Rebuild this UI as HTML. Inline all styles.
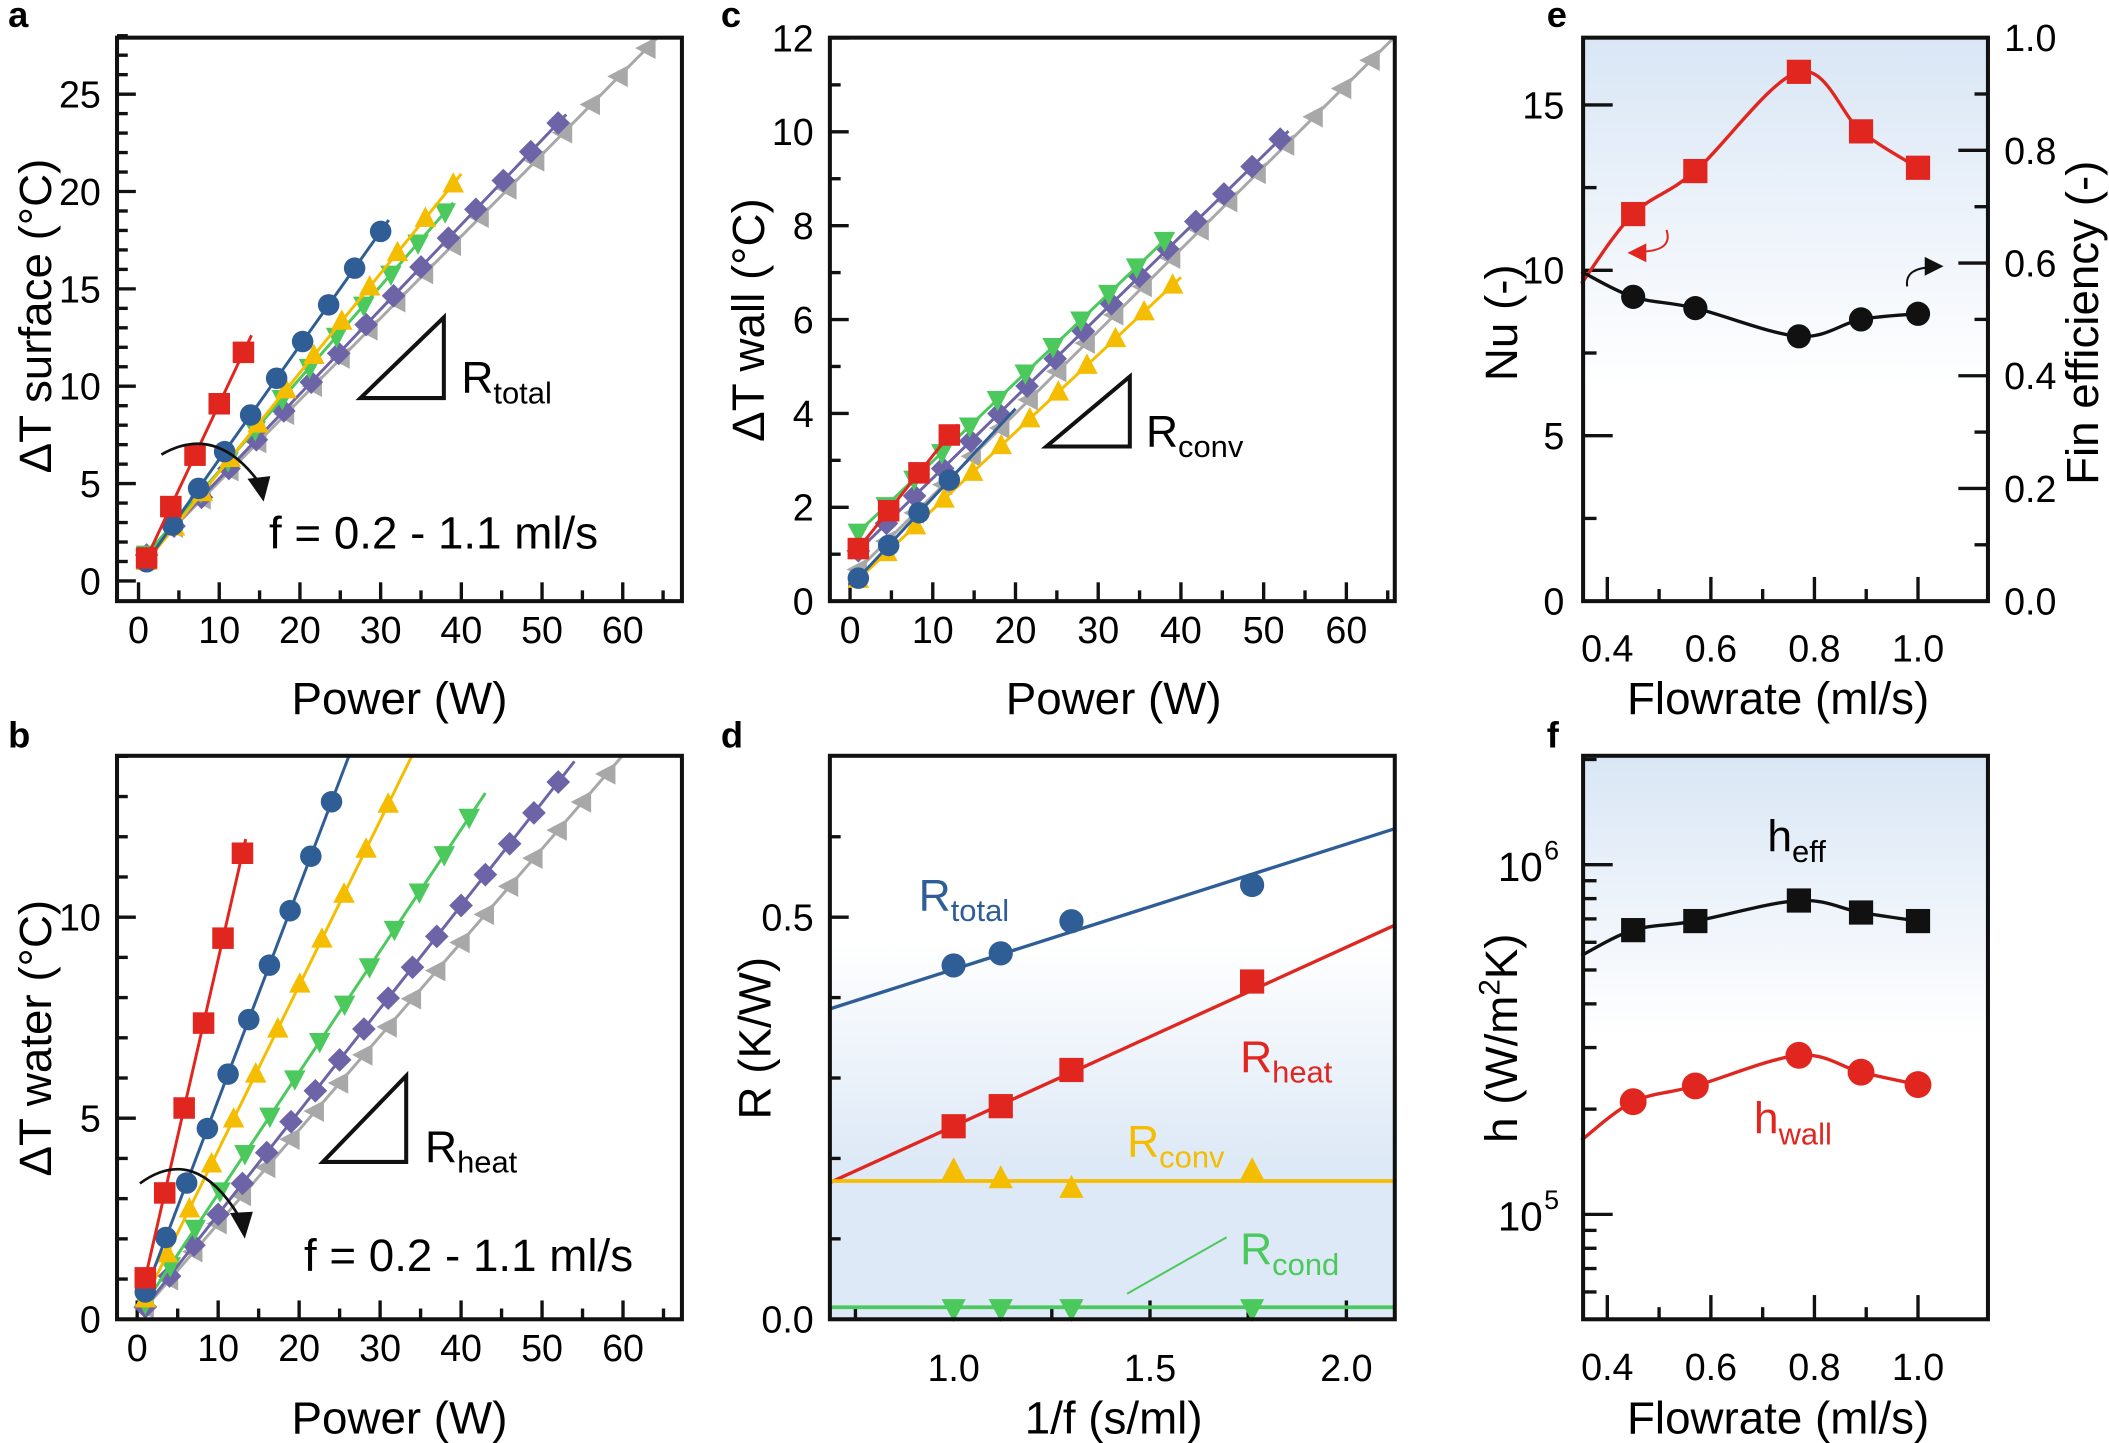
<!DOCTYPE html>
<html><head><meta charset="utf-8"><style>
html,body{margin:0;padding:0;background:#fff}
svg{display:block}
text{font-family:"Liberation Sans",Arial,sans-serif}
</style></head><body>
<svg id="s" width="2109" height="1443" viewBox="0 0 1568 1073" preserveAspectRatio="none" xmlns="http://www.w3.org/2000/svg">
<defs>
<linearGradient id="gd" x1="0" y1="0" x2="0" y2="1"><stop offset="0.33" stop-color="#fff"/><stop offset="0.72" stop-color="#dde9f6"/><stop offset="1" stop-color="#dde9f6"/></linearGradient>
<linearGradient id="ge" x1="0" y1="0" x2="0" y2="1"><stop offset="0" stop-color="#d9e6f5"/><stop offset="0.62" stop-color="#fff"/></linearGradient>
<linearGradient id="gf" x1="0" y1="0" x2="0" y2="1"><stop offset="0" stop-color="#d9e6f5"/><stop offset="0.5" stop-color="#fff"/></linearGradient>
</defs>
<rect x="617" y="562" width="420" height="419" fill="url(#gd)"/>
<rect x="1177" y="28" width="301" height="419" fill="url(#ge)"/>
<rect x="1177" y="562" width="301" height="419" fill="url(#gf)"/>
<g id="g"></g>
<g font-weight="bold" font-size="27">
<text x="6" y="20">a</text><text x="536" y="20">c</text><text x="1150" y="20">e</text>
<text x="6" y="556">b</text><text x="536" y="556">d</text><text x="1150" y="556">f</text></g>
<g font-size="34" text-anchor="middle">
<text x="297" y="531">Power (W)</text><text x="828" y="531">Power (W)</text><text x="1322" y="531">Flowrate (ml/s)</text>
<text x="297" y="1066">Power (W)</text><text x="828" y="1066">1/f (s/ml)</text><text x="1322" y="1066">Flowrate (ml/s)</text>
<text transform="translate(38,235) rotate(-90)">ΔT surface (°C)</text>
<text transform="translate(568,238) rotate(-90)">ΔT wall (°C)</text>
<text transform="translate(1128,240) rotate(-90)">Nu (-)</text>
<text transform="translate(1560,240) rotate(-90)">Fin efficiency (-)</text>
<text transform="translate(38,772) rotate(-90)">ΔT water (°C)</text>
<text transform="translate(573,772) rotate(-90)">R (K/W)</text>
<text transform="translate(1128,772) rotate(-90)">h (W/m<tspan font-size="22" dy="-13">2</tspan><tspan dy="13">K)</tspan></text>
</g>
<g font-size="33">
<text x="343" y="292">R<tspan font-size="23" dy="8">total</tspan></text>
<text x="852" y="332">R<tspan font-size="23" dy="8">conv</tspan></text>
<text x="316" y="864">R<tspan font-size="23" dy="8">heat</tspan></text>
<text x="200" y="408" font-size="34">f = 0.2 - 1.1 ml/s</text>
<text x="226" y="945" font-size="34">f = 0.2 - 1.1 ml/s</text>
<text x="683" y="677" fill="#2f5e97">R<tspan font-size="23" dy="8">total</tspan></text>
<text x="922" y="797" fill="#e0261f">R<tspan font-size="23" dy="8">heat</tspan></text>
<text x="838" y="860" fill="#f5bd00">R<tspan font-size="23" dy="8">conv</tspan></text>
<text x="922" y="940" fill="#4cc95c">R<tspan font-size="23" dy="8">cond</tspan></text>
<text x="1314" y="633" fill="#000">h<tspan font-size="23" dy="8">eff</tspan></text>
<text x="1304" y="843" fill="#e0261f">h<tspan font-size="23" dy="8">wall</tspan></text>
</g>
</svg>
<script>
const G=document.getElementById('g');const NS='http://www.w3.org/2000/svg';
function el(t,a){const e=document.createElementNS(NS,t);for(const k in a)e.setAttribute(k,a[k]);G.appendChild(e);return e;}
function txt(x,y,s,anc,fs){const e=el('text',{x:x,y:y,'font-size':fs||28,'text-anchor':anc||'middle'});e.textContent=s;return e;}
const C={r:'#e0261f',b:'#2f5e97',y:'#f5bd00',g:'#4cc95c',p:'#6c64a6',k:'#a8a8a8',K:'#111'};
function mk(x,y,t,c,s){s=s||8;
 if(t=='s')el('rect',{x:x-s,y:y-s,width:2*s,height:2*s,fill:c});
 else if(t=='o')el('circle',{cx:x,cy:y,r:s,fill:c});
 else if(t=='u')el('polygon',{points:`${x},${y-s*1.1} ${x-s},${y+s*.8} ${x+s},${y+s*.8}`,fill:c});
 else if(t=='v')el('polygon',{points:`${x},${y+s*1.1} ${x-s},${y-s*.8} ${x+s},${y-s*.8}`,fill:c});
 else if(t=='d')el('polygon',{points:`${x},${y-s*1.1} ${x+s*1.1},${y} ${x},${y+s*1.1} ${x-s*1.1},${y}`,fill:c});
 else if(t=='l')el('polygon',{points:`${x-s*1.1},${y} ${x+s*.8},${y-s} ${x+s*.8},${y+s}`,fill:c});}
function frame(L,T,R,B){el('rect',{x:L,y:T,width:R-L,height:B-T,fill:'none',stroke:'#111','stroke-width':3});}
function line(pts,c,w){el('polyline',{points:pts.map(p=>p.join(',')).join(' '),fill:'none',stroke:c,'stroke-width':w||2.2});}
function smooth(pts,c,w){let d='M'+pts[0].join(',');for(let i=0;i<pts.length-1;i++){const p0=pts[Math.max(0,i-1)],p1=pts[i],p2=pts[i+1],p3=pts[Math.min(pts.length-1,i+2)];
 d+=` C${p1[0]+(p2[0]-p0[0])/6},${p1[1]+(p2[1]-p0[1])/6} ${p2[0]-(p3[0]-p1[0])/6},${p2[1]-(p3[1]-p1[1])/6} ${p2[0]},${p2[1]}`;}
 el('path',{d:d,fill:'none',stroke:c,'stroke-width':w||2.5});}
function powerPanel(L,T,R,B,x0,xs,y0,ys,ymaj,ymin,ymax,series,ylab){
 const X=v=>x0+v*xs,Y=v=>y0-v*ys;
 for(let v=0;v<=65;v+=5){const big=v%10==0;el('line',{x1:X(v),x2:X(v),y1:B,y2:B-(big?14:8),stroke:'#111','stroke-width':2.5});if(big)txt(X(v),B+31,v);}
 for(let v=0;v<=ymax;v+=ymin){const big=Math.abs(v/ymaj-Math.round(v/ymaj))<1e-6;el('line',{x1:L,x2:L+(big?14:8),y1:Y(v),y2:Y(v),stroke:'#111','stroke-width':2.5});if(big&&ylab)txt(L-12,Y(v)+10,v,'end');}
 series.forEach(s=>{const [c,t,a,b,p1,n,pe]=s;const pts=[];for(let i=0;i<n;i++){pts.push(1+(p1-1)*i/(n-1));}
  let ye=a+b*pe;let xe=pe;const ytop=(y0-T)/ys;if(ye>ytop){xe=(ytop-a)/b;ye=ytop;}
  line([[X(1),Y(a+b)],[X(xe),Y(ye)]],c,2.2);
  pts.forEach(p=>{const yy=a+b*p;if(yy<ytop)mk(X(p),Y(yy),t,c,8)});});
 frame(L,T,R,B);}
powerPanel(87,28,507,447,103,6.0,432,14.48,5,1,28,[
 ['#a8a8a8','l',0.9,0.42,63,19,66],['#6c64a6','d',0.9,0.435,52,16,53],['#4cc95c','v',0.9,0.475,38,12,39],
 ['#f5bd00','u',0.5,0.51,39,12,40],['#2f5e97','o',0.4,0.585,30,10,31],['#e0261f','s',0.3,0.88,13,5,14]],true);
powerPanel(617,28,1037,447,632,6.15,447,34.9,2,1,12,[
 ['#a8a8a8','l',0.5,0.175,63,19,66],['#6c64a6','d',0.9,0.172,52,16,53],['#4cc95c','v',1.3,0.168,38,12,39],
 ['#f5bd00','u',0.3,0.165,39,12,40],['#2f5e97','o',0.3,0.19,12,4,20],['#e0261f','s',0.9,0.22,12,4,13]],true);
powerPanel(87,562,507,981,102,6.02,981,29.9,5,1,14,[
 ['#a8a8a8','l',0.05,0.233,58,20,60],['#6c64a6','d',0.05,0.256,52,18,54],['#4cc95c','v',0.1,0.302,41,14,43],
 ['#f5bd00','u',0.1,0.41,31,12,34],['#2f5e97','o',0.15,0.53,24,10,27],['#e0261f','s',0.15,0.88,13,6,13.4]],true);
el('polygon',{points:'268,296 330,296 330,236',fill:'none',stroke:'#111','stroke-width':3});
el('polygon',{points:'778,332 840,332 840,280',fill:'none',stroke:'#111','stroke-width':3});
el('polygon',{points:'240,864 302,864 302,800',fill:'none',stroke:'#111','stroke-width':3});
el('path',{d:'M120,338 Q160,315 192,358',fill:'none',stroke:'#111','stroke-width':2});
el('polygon',{points:'184,356 201,354 196,373',fill:'#111'});
el('path',{d:'M104,880 Q145,850 178,905',fill:'none',stroke:'#111','stroke-width':2});
el('polygon',{points:'171,902 188,901 182,921',fill:'#111'});
// panel d
(function(){const L=617,T=562,R=1037,B=981;const X=v=>709+(v-1)*292,Y=v=>981-v*598;
 for(let v=0.75;v<=2.1;v+=0.25){const big=Math.abs(v*2-Math.round(v*2))<1e-6;el('line',{x1:X(v),x2:X(v),y1:B,y2:B-(big?14:8),stroke:'#111','stroke-width':2.5});if(big)txt(X(v),B+46,v.toFixed(1));}
 for(let i=0;i<=6;i++){const v=i/10;const big=i%5==0;el('line',{x1:L,x2:L+(big?14:8),y1:Y(v),y2:Y(v),stroke:'#111','stroke-width':2.5});if(big)txt(L-12,Y(v)+10,v.toFixed(1),'end');}
 line([[L,Y(0.386)],[R,Y(0.61)]],C.b,2.5);line([[L,Y(0.17)],[R,Y(0.49)]],C.r,2.5);
 line([[L,Y(0.172)],[R,Y(0.172)]],C.y,2.8);line([[L,Y(0.015)],[R,Y(0.015)]],C.g,2.8);
 [[1,.44],[1.12,.455],[1.3,.495],[1.76,.54]].forEach(p=>mk(X(p[0]),Y(p[1]),'o',C.b,9));
 [[1,.24],[1.12,.265],[1.3,.31],[1.76,.42]].forEach(p=>mk(X(p[0]),Y(p[1]),'s',C.r,9));
 [[1,.185],[1.12,.175],[1.3,.163],[1.76,.185]].forEach(p=>mk(X(p[0]),Y(p[1]),'u',C.y,9));
 [1,1.12,1.3,1.76].forEach(x=>mk(X(x),Y(0.013),'v',C.g,9));
 line([[838,962],[912,920]],C.g,1.5);
 frame(L,T,R,B);})();
// panel e
(function(){const L=1177,T=28,R=1478,B=447;const X=v=>1195+(v-0.4)*385,Y=v=>447-v*24.6,Y2=v=>447-v*419;
 for(let i=4;i<=10;i++){const v=i/10;const big=i%2==0;el('line',{x1:X(v),x2:X(v),y1:B,y2:B-(big?18:9),stroke:'#111','stroke-width':2.5});if(big)txt(X(v),B+45,v.toFixed(1));}
 for(let v=0;v<=17;v+=2.5){const big=v%5==0;el('line',{x1:L,x2:L+(big?22:10),y1:Y(v),y2:Y(v),stroke:'#111','stroke-width':2.5});if(big)txt(L-14,Y(v)+10,v,'end');}
 for(let i=0;i<=10;i++){const v=i/10;const big=i%2==0;el('line',{x1:R,x2:R-(big?22:10),y1:Y2(v),y2:Y2(v),stroke:'#111','stroke-width':2.5});if(big)txt(R+12,Y2(v)+10,v.toFixed(1),'start');}
 const red=[[0.35,9.6],[0.45,11.7],[0.57,13],[0.77,16],[0.89,14.2],[1,13.1]];
 const blk=[[0.35,0.585],[0.45,0.54],[0.57,0.52],[0.77,0.47],[0.89,0.5],[1,0.51]];
 smooth(red.map(p=>[X(p[0]),Y(p[1])]),C.r,2.5);smooth(blk.map(p=>[X(p[0]),Y2(p[1])]),'#111',2.5);
 red.slice(1).forEach(p=>mk(X(p[0]),Y(p[1]),'s',C.r,9));blk.slice(1).forEach(p=>mk(X(p[0]),Y2(p[1]),'o','#111',9));
 el('path',{d:'M1239,171 Q1244,186 1222,187',fill:'none',stroke:C.r,'stroke-width':1.5});el('polygon',{points:'1210,188 1224,181 1224,195',fill:C.r});
 el('path',{d:'M1418,213 Q1416,201 1432,199',fill:'none',stroke:'#111','stroke-width':1.5});el('polygon',{points:'1445,198 1431,191 1431,205',fill:'#111'});
 frame(L,T,R,B);})();
// panel f
(function(){const L=1177,T=562,R=1478,B=981;const X=v=>1195+(v-0.4)*385,Y=v=>903-260*Math.log10(v/1e5);
 for(let i=4;i<=10;i++){const v=i/10;const big=i%2==0;el('line',{x1:X(v),x2:X(v),y1:B,y2:B-(big?18:9),stroke:'#111','stroke-width':2.5});if(big)txt(X(v),B+45,v.toFixed(1));}
 [4,5,6,7,8,9].forEach(m=>{[1e4,1e5,1e6].forEach(d=>{const v=m*d;const y=Y(v);if(y>T+2&&y<B-2)el('line',{x1:L,x2:L+10,y1:y,y2:y,stroke:'#111','stroke-width':2.5});});});
 [2,3].forEach(m=>{[1e5,1e6].forEach(d=>{const y=Y(m*d);if(y>T+2)el('line',{x1:L,x2:L+10,y1:y,y2:y,stroke:'#111','stroke-width':2.5});});});
 [1e5,1e6].forEach((v,i)=>{el('line',{x1:L,x2:L+22,y1:Y(v),y2:Y(v),stroke:'#111','stroke-width':2.5});
  txt(L-30,Y(v)+12,'10','end',30);const e=el('text',{x:L-29,y:Y(v)-4,'font-size':20,'text-anchor':'start'});e.textContent=i?'6':'5';});
 const he=[[0.35,5.5e5],[0.45,6.5e5],[0.57,6.9e5],[0.77,7.9e5],[0.89,7.3e5],[1,6.9e5]];
 const hw=[[0.35,1.63e5],[0.45,2.1e5],[0.57,2.33e5],[0.77,2.85e5],[0.89,2.55e5],[1,2.35e5]];
 smooth(he.map(p=>[X(p[0]),Y(p[1])]),'#111',2.5);smooth(hw.map(p=>[X(p[0]),Y(p[1])]),C.r,2.5);
 he.slice(1).forEach(p=>mk(X(p[0]),Y(p[1]),'s','#111',9));hw.slice(1).forEach(p=>mk(X(p[0]),Y(p[1]),'o',C.r,10));
 frame(L,T,R,B);})();
</script>
</body></html>
